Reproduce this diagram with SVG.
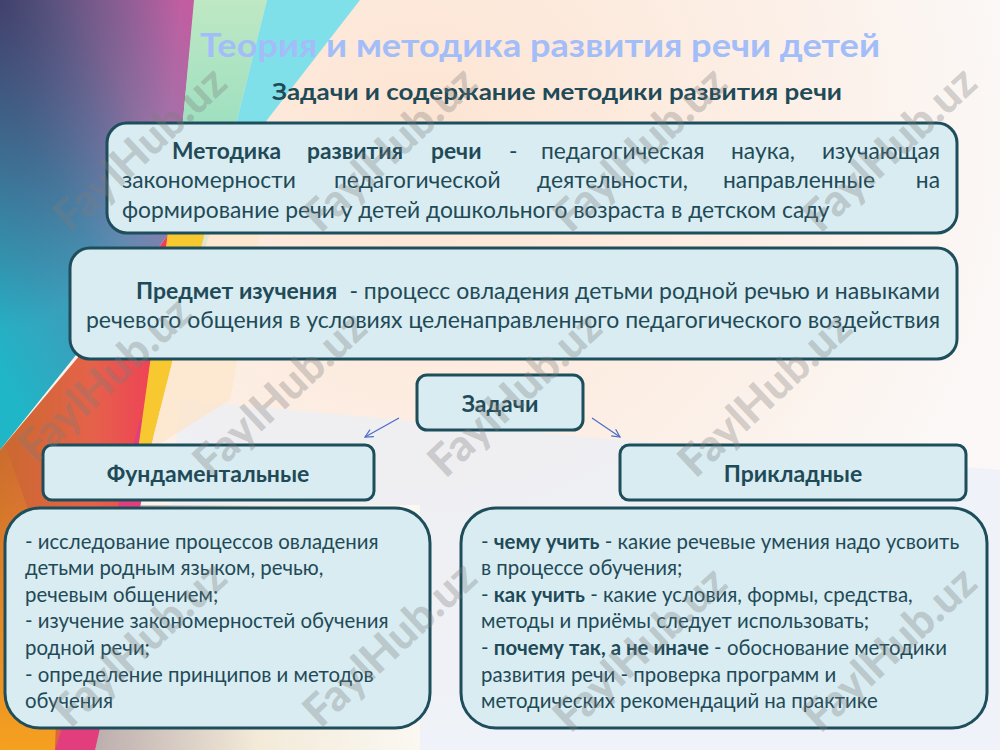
<svg xmlns="http://www.w3.org/2000/svg" width="1000" height="750" viewBox="0 0 1000 750">
<defs>
<linearGradient id="gLeft" x1="1" y1="0" x2="0.2" y2="1">
<stop offset="0" stop-color="#c65aa0"/>
<stop offset="0.3" stop-color="#9a78aa"/>
<stop offset="0.6" stop-color="#4a92b4"/>
<stop offset="1" stop-color="#1fb6c8"/>
</linearGradient>
<radialGradient id="gDark" cx="0" cy="0" r="1" gradientUnits="userSpaceOnUse" gradientTransform="translate(0,0) scale(180,330)">
<stop offset="0" stop-color="#3a3560" stop-opacity="0.85"/>
<stop offset="1" stop-color="#3a3560" stop-opacity="0"/>
</radialGradient>
<linearGradient id="gOrange" x1="0" y1="0" x2="1" y2="0">
<stop offset="0" stop-color="#c9692e"/>
<stop offset="0.55" stop-color="#e5624a"/>
<stop offset="1" stop-color="#f23a5a"/>
</linearGradient>
<linearGradient id="gOrangeLow" x1="0" y1="0" x2="0" y2="1">
<stop offset="0" stop-color="#f5a020" stop-opacity="0"/>
<stop offset="1" stop-color="#f5a020" stop-opacity="1"/>
</linearGradient>
<linearGradient id="gGreen" x1="0" y1="0" x2="0" y2="1">
<stop offset="0" stop-color="#bfe8c4"/>
<stop offset="1" stop-color="#7ed8bc"/>
</linearGradient>
<linearGradient id="gBeige" x1="0" y1="0" x2="1" y2="0">
<stop offset="0" stop-color="#bcaeae"/>
<stop offset="0.5" stop-color="#f3ead8"/>
<stop offset="1" stop-color="#fbf8f2"/>
</linearGradient>
<radialGradient id="gPeach" cx="420" cy="140" r="600" gradientUnits="userSpaceOnUse">
<stop offset="0" stop-color="#fde4d2"/>
<stop offset="0.6" stop-color="#fcefe6"/>
<stop offset="1" stop-color="#fbf8f7"/>
</radialGradient>
<marker id="arr" viewBox="0 0 10 10" refX="9" refY="5" markerWidth="10" markerHeight="10" markerUnits="userSpaceOnUse" orient="auto">
<path d="M1,1 L9,5 L1,9" fill="none" stroke="#4a6cc8" stroke-width="1.2"/>
</marker>
<style>
.box{fill:#d8ecf1;stroke:#1e4e5c;stroke-width:3}
.t{font-family:Lato,"Open Sans","Liberation Sans",sans-serif;fill:#1f4a57}
.b{font-weight:bold}
.body{font-size:22.8px}
.body2{font-size:23px}
.list{font-size:20.4px}
.hd{font-size:23px;font-weight:bold}
.wm{font-family:Lato,"Liberation Sans",sans-serif;font-weight:900;font-size:44px;fill:#7c7c7c;fill-opacity:0.33}
.conn{stroke:#4a6cc8;stroke-width:1.2;fill:none}
</style>
</defs>

<g id="background">
<rect width="1000" height="750" fill="url(#gPeach)"/>
<polygon points="180,400 620,440 1000,470 1000,750 150,750" fill="#e9eff8" opacity="0.7"/>
<polygon points="95,750 135,505 420,505 420,750" fill="url(#gBeige)"/>
<polygon points="0,0 195,0 183,120 168,235 120,300 0,450" fill="url(#gLeft)"/>
<polygon points="0,0 195,0 183,120 168,235 120,300 0,450" fill="url(#gDark)"/>
<polygon points="194,0 267,0 237,120 205,250 170,240 183,120" fill="url(#gGreen)"/>
<polygon points="267,0 360,0 267,120 205,245 237,120" fill="#80e0ea"/>
<polygon points="0,450 80,355 120,300 168,235 150,440 95,750 0,750" fill="url(#gOrange)"/>
<polygon points="0,430 60,600 55,750 0,750" fill="url(#gOrangeLow)"/>
<polygon points="140,420 156,420 100,728 95,750 55,750 62,728" fill="#e23d7c"/>
<polygon points="168,232 205,232 150,450 138,450" fill="#f8c830"/>
<polygon points="205,232 260,232 230,400 150,450" fill="#fde6cc" opacity="0.8"/>
</g>

<g id="title">
<text class="t b" x="200" y="57" font-size="33" textLength="680" lengthAdjust="spacingAndGlyphs" style="fill:#a3bdf8">Теория и методика развития речи детей</text>
<text class="t b" x="272" y="100" font-size="23.5" textLength="570" lengthAdjust="spacingAndGlyphs">Задачи и содержание методики развития речи</text>
</g>

<g id="node-definition">
<rect class="box" x="107" y="123" width="850" height="110" rx="20"/>
<text class="t body"><tspan class="b" x="172" y="159">Методика</tspan><tspan class="b" x="307" y="159">развития</tspan><tspan class="b" x="431" y="159">речи</tspan><tspan x="509" y="159">-</tspan><tspan x="541" y="159">педагогическая</tspan><tspan x="731" y="159">наука,</tspan></text>
<text class="t body" x="940" y="159" text-anchor="end">изучающая</text>
<text class="t body"><tspan x="122" y="188">закономерности</tspan><tspan x="334" y="188">педагогической</tspan><tspan x="537" y="188">деятельности,</tspan><tspan x="723" y="188">направленные</tspan></text>
<text class="t body" x="940" y="188" text-anchor="end">на</text>
<text class="t body" x="122" y="218">формирование речи у детей дошкольного возраста в детском саду</text>
</g>

<g id="node-subject">
<rect class="box" x="70" y="248" width="887" height="111" rx="20"/>
<text class="t body2 b" x="136" y="299">Предмет изучения</text>
<text class="t body2" x="940" y="299" text-anchor="end">- процесс овладения детьми родной речью и навыками</text>
<text class="t body2" x="86" y="328" textLength="854" lengthAdjust="spacing">речевого общения в условиях целенаправленного педагогического воздействия</text>
</g>

<g id="node-tasks">
<rect class="box" x="417" y="375" width="166" height="55" rx="10"/>
<text class="t hd" x="500" y="412" text-anchor="middle">Задачи</text>
</g>

<g id="node-fundamental">
<rect class="box" x="43" y="445" width="331" height="55" rx="9"/>
<text class="t hd" x="208" y="482" text-anchor="middle">Фундаментальные</text>
</g>

<g id="node-applied">
<rect class="box" x="620" y="445" width="346" height="55" rx="9"/>
<text class="t hd" x="793" y="482" text-anchor="middle">Прикладные</text>
</g>

<g id="node-fundamental-list">
<rect class="box" x="5" y="508" width="425" height="220" rx="35"/>
<text class="t list">
<tspan x="25" y="549">- исследование процессов овладения</tspan>
<tspan x="25" y="575">детьми родным языком, речью,</tspan>
<tspan x="25" y="602">речевым общением;</tspan>
<tspan x="25" y="628">- изучение закономерностей обучения</tspan>
<tspan x="25" y="655">родной речи;</tspan>
<tspan x="25" y="682">- определение принципов и методов</tspan>
<tspan x="25" y="708">обучения</tspan>
</text>
</g>

<g id="node-applied-list">
<rect class="box" x="461" y="508" width="526" height="220" rx="35"/>
<text class="t list">
<tspan x="481" y="549">- <tspan class="b">чему учить</tspan> - какие речевые умения надо усвоить</tspan>
<tspan x="481" y="575">в процессе обучения;</tspan>
<tspan x="481" y="602">- <tspan class="b">как учить</tspan> - какие условия, формы, средства,</tspan>
<tspan x="481" y="628">методы и приёмы следует использовать;</tspan>
<tspan x="481" y="655">- <tspan class="b">почему так, а не иначе</tspan> - обоснование методики</tspan>
<tspan x="481" y="682">развития речи - проверка программ и</tspan>
<tspan x="481" y="708">методических рекомендаций на практике</tspan>
</text>
</g>

<g id="connectors">
<line class="conn" x1="399" y1="418" x2="365" y2="437" marker-end="url(#arr)"/>
<line class="conn" x1="592" y1="418" x2="620" y2="437" marker-end="url(#arr)"/>
</g>

<g id="watermarks">
<text class="wm" text-anchor="middle" transform="translate(150,160) rotate(-43)">FaylHub.uz</text>
<text class="wm" text-anchor="middle" transform="translate(400,160) rotate(-43)">FaylHub.uz</text>
<text class="wm" text-anchor="middle" transform="translate(650,160) rotate(-43)">FaylHub.uz</text>
<text class="wm" text-anchor="middle" transform="translate(900,160) rotate(-43)">FaylHub.uz</text>
<text class="wm" text-anchor="middle" transform="translate(115,390) rotate(-43)">FaylHub.uz</text>
<text class="wm" text-anchor="middle" transform="translate(290,405) rotate(-43)">FaylHub.uz</text>
<text class="wm" text-anchor="middle" transform="translate(525,405) rotate(-43)">FaylHub.uz</text>
<text class="wm" text-anchor="middle" transform="translate(775,405) rotate(-43)">FaylHub.uz</text>
<text class="wm" text-anchor="middle" transform="translate(150,655) rotate(-43)">FaylHub.uz</text>
<text class="wm" text-anchor="middle" transform="translate(400,655) rotate(-43)">FaylHub.uz</text>
<text class="wm" text-anchor="middle" transform="translate(650,660) rotate(-43)">FaylHub.uz</text>
<text class="wm" text-anchor="middle" transform="translate(900,660) rotate(-43)">FaylHub.uz</text>
</g>
</svg>
